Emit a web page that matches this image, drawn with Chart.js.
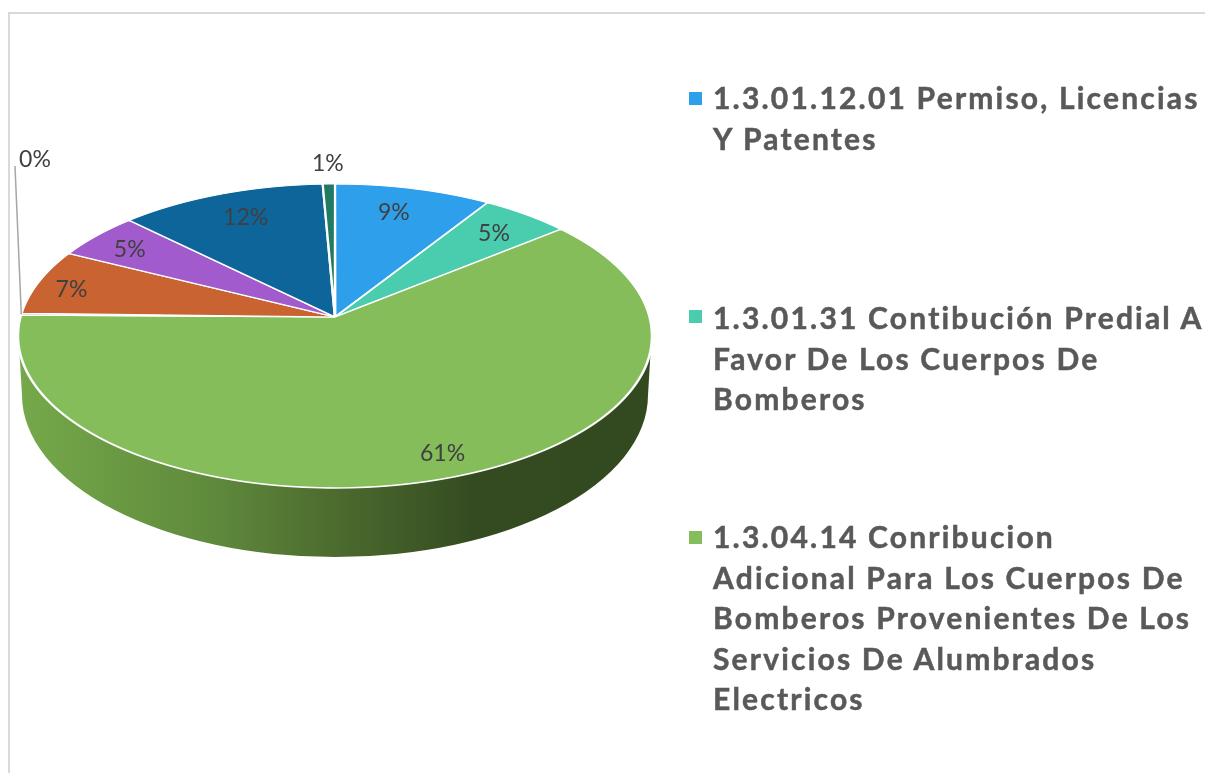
<!DOCTYPE html>
<html>
<head>
<meta charset="utf-8">
<script src="https://cdn.jsdelivr.net/npm/chart.js@4"></script>
<style>
    html, body { margin: 0; padding: 0; background: #fff; }
    #wrap { position: relative; width: 1205px; height: 773px; overflow: hidden; }
    #frame { position: absolute; left: 8px; top: 12px; width: 1300px; height: 900px; border: 2px solid #d9d9d9; }
    #pie { position: absolute; left: 0; top: 0; }
    .item {
        position: absolute; left: 713px; white-space: nowrap;
        font: bold 30px/40.6px Lato, sans-serif; letter-spacing: 2.2px; color: #595959;
        -webkit-text-stroke: 0.5px #595959;
    }
    .mark { position: absolute; left: 689px; width: 13px; height: 13px; }
</style>
</head>
<body>
<div id="wrap">
    <div id="frame"></div>
    <canvas id="pie" width="1205" height="773"></canvas>
</div>
<script>
// Slices clockwise from 12 o'clock. Only the first three names show in the picture
const categories = [
    '1.3.01.12.01 Permiso, Licencias Y Patentes',
    '1.3.01.31 Contibución Predial A Favor De Los Cuerpos De Bomberos',
    '1.3.04.14 Conribucion Adicional Para Los Cuerpos De Bomberos Provenientes De Los Servicios De Alumbrados Electricos',
    '', '', '', '', ''
];
const values = [9.0, 5.1, 61.1, 0.2, 7.0, 5.0, 11.9, 0.7];
const valueLabels = ['9%', '5%', '61%', '0%', '7%', '5%', '12%', '1%'];
const colors = ['#2e9fea', '#4accaf', '#84bd59', '#d9d9d9', '#c96331', '#a25bcd', '#0e6599', '#217b63'];

// Wrapped legend lines, the rest of the legend falls outside the picture
const legendLines = [
    ['1.3.01.12.01 Permiso, Licencias', 'Y Patentes'],
    ['1.3.01.31 Contibución Predial A', 'Favor De Los Cuerpos De', 'Bomberos'],
    ['1.3.04.14 Conribucion', 'Adicional Para Los Cuerpos De', 'Bomberos Provenientes De Los', 'Servicios De Alumbrados', 'Electricos']
];
const legendTops = [77, 297, 516];
const legendMarkTops = [92, 310, 531];

// Perspective of the tilted disc: apex on screen, depth and width factors
const apexX = 335, apexY = 317;
const tiltA = 149.6, tiltK = 0.125, halfWidth = 314.5;
const labelRadius = [0.81, 0.82, 0.87, 0, 0.88, 0.84, 0.77, 1.18];
const labelShiftX = [-6, 0, 7, 0, -2, -3, 1, 0];
const labelShiftY = [2, 2, 0, 0, 4, 2, -3, 0];

// Unit circle point (u right, v away from viewer) to screen
function project(u, v) {
    const d = 1 + tiltK * v;
    return { x: apexX + halfWidth * u / d, y: apexY - tiltA * v / d };
}

function drawWall(ctx) {
    const grad = ctx.createLinearGradient(22, 0, 650, 0);
    grad.addColorStop(0, '#75a84a');
    grad.addColorStop(0.3, '#5f8a3c');
    grad.addColorStop(0.5, '#4c6b2e');
    grad.addColorStop(0.72, '#344b21');
    grad.addColorStop(1, '#334a20');
    ctx.fillStyle = grad;
    ctx.beginPath();
    ctx.ellipse(335, 395, 313, 162, 0, 0, Math.PI);
    ctx.lineTo(19, 345);
    ctx.lineTo(651, 345);
    ctx.closePath();
    ctx.fill();
}

// Draws the library's arcs one pixel row at a time so the circle gets the perspective
function drawDisc(chart, ctx) {
    const arcs = chart.getDatasetMeta(0).data;
    const R = arcs[0].outerRadius, cx = arcs[0].x, cy = arcs[0].y;
    for (let row = 178; row < 494; row++) {
        const dy = apexY - (row + 0.5);
        const den = tiltA - tiltK * dy;
        const v = dy / den;
        const sx = halfWidth / (R * (1 + tiltK * v));
        const sy = (den * den / tiltA) / R;
        const yc = cy - v * R;
        ctx.save();
        ctx.beginPath();
        ctx.rect(0, row, chart.width, 1);
        ctx.clip();
        ctx.setTransform(sx, 0, 0, sy, apexX - cx * sx, row + 0.5 - yc * sy);
        arcs.forEach(arc => arc.draw(ctx));
        ctx.restore();
    }
}

function drawLabels(chart, ctx) {
    const arcs = chart.getDatasetMeta(0).data;
    ctx.font = '23px Lato, sans-serif';
    ctx.fillStyle = '#404040';
    ctx.textAlign = 'center';
    ctx.textBaseline = 'middle';
    arcs.forEach((arc, i) => {
        const mid = (arc.startAngle + arc.endAngle) / 2;
        if (labelRadius[i] === 0) {
            // tiny slice, label sits up on a leader line
            const rim = project(Math.cos(mid), -Math.sin(mid));
            ctx.strokeStyle = '#a6a6a6';
            ctx.lineWidth = 1.5;
            ctx.beginPath();
            ctx.moveTo(rim.x, rim.y);
            ctx.lineTo(15, 166);
            ctx.stroke();
            ctx.fillText(valueLabels[i], 35, 160);
            return;
        }
        const p = project(labelRadius[i] * Math.cos(mid), -labelRadius[i] * Math.sin(mid));
        ctx.fillText(valueLabels[i], p.x + labelShiftX[i], p.y + labelShiftY[i]);
    });
}

const tiltedPie = {
    id: 'tiltedPie',
    beforeDatasetsDraw(chart) {
        const ctx = chart.ctx;
        drawWall(ctx);
        drawDisc(chart, ctx);
        drawLabels(chart, ctx);
        return false;
    }
};

new Chart(document.getElementById('pie'), {
    type: 'pie',
    data: {
        labels: categories,
        datasets: [{
            data: values,
            backgroundColor: colors,
            borderColor: '#ffffff',
            borderWidth: 2.5
        }]
    },
    options: {
        responsive: false,
        animation: false,
        radius: 314,
        plugins: {
            legend: { display: false },
            tooltip: { enabled: false }
        }
    },
    plugins: [tiltedPie]
});

// Legend
const wrap = document.getElementById('wrap');
legendLines.forEach((lines, i) => {
    const mark = document.createElement('div');
    mark.className = 'mark';
    mark.style.top = legendMarkTops[i] + 'px';
    mark.style.background = colors[i];
    wrap.appendChild(mark);

    const item = document.createElement('div');
    item.className = 'item';
    item.style.top = legendTops[i] + 'px';
    item.innerHTML = lines.join('<br>');
    wrap.appendChild(item);
});
</script>
</body>
</html>
